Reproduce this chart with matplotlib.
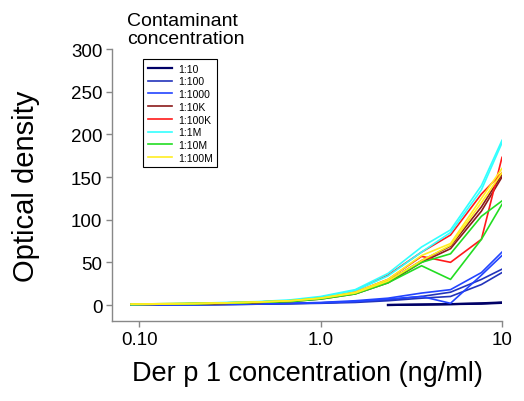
import matplotlib.pyplot as plt
from matplotlib.ticker import FixedLocator, FixedFormatter

plt.rcParams['font.family'] = ['Liberation Sans', 'DejaVu Sans']

# Der p 1 concentration (ng/ml), high to low
conc = [10, 7.7, 5.2, 3.6, 2.35, 1.55, 1.0, 0.68, 0.45, 0.3, 0.2, 0.13, 0.09]
conc_short = conc[:5]

# two replicate curves per contaminant dilution
od_1_10 = [[3, 2, 1, 0.5, 0], [2.5, 1.5, 1, 0.5, 0]]
od_1_100 = [[42, 30, 15, 10, 6, 4, 2.5, 1.5, 1, 0.5, 0.5, 0, 0],
            [38, 24, 10, 8, 5, 3, 2, 1.5, 1, 0.5, 0, 0, 0]]
od_1_1000 = [[62, 38, 18, 14, 8, 5, 3, 2, 1.5, 1, 0.5, 0.5, 0],
             [58, 35, 2, 10, 7, 4, 2.5, 2, 1.5, 1, 0.5, 0.5, 0]]
od_1_10k = [[153, 115, 69, 52, 28, 14, 8, 5, 3, 2, 1.5, 1, 0.5],
            [150, 110, 66, 50, 26, 13, 7, 4, 3, 2, 1, 1, 0.5]]
od_1_100k = [[155, 130, 82, 62, 35, 17, 9, 5, 3.5, 2.5, 1.5, 1, 0.5],
             [173, 77, 50, 57, 30, 15, 8, 5, 3, 2, 1.5, 1, 0.5]]
od_1_1m = [[193, 140, 88, 68, 37, 18, 10, 6, 4, 3, 2, 1, 0.5],
           [190, 135, 85, 62, 34, 17, 9, 5, 3.5, 2.5, 1.5, 1, 0.5]]
od_1_10m = [[118, 77, 30, 46, 26, 13, 7, 4, 3, 2, 1.5, 1, 0.5],
            [122, 104, 60, 50, 28, 14, 8, 5, 3.5, 2.5, 2, 1.5, 1]]
od_1_100m = [[160, 125, 72, 58, 30, 15, 8, 5, 3.5, 2.5, 2, 1.5, 1],
             [155, 120, 70, 52, 28, 14, 8, 5, 3.5, 2.5, 1.5, 1, 1]]

labels = ["1:10", "1:100", "1:1000", "1:10K", "1:100K", "1:1M", "1:10M", "1:100M"]
colors = ["#000066", "#2233bb", "#2244ff", "#8b1a1a", "#ff1a1a", "#33ffff", "#22dd22", "#ffee22"]
series = [od_1_10, od_1_100, od_1_1000, od_1_10k, od_1_100k, od_1_1m, od_1_10m, od_1_100m]

fig = plt.figure(figsize=(5.24, 4.02), dpi=100)
ax = fig.add_axes([0.2137, 0.199, 0.958 - 0.2137, 0.8756 - 0.199])

for lab, col, reps in zip(labels, colors, series):
    for i, ys in enumerate(reps):
        xs = conc_short if len(ys) == len(conc_short) else conc
        lw = 1.6 if lab == "1:10" else 1.2
        ax.plot(xs, ys, color=col, lw=lw, label=lab if i == 0 else None)

ax.set_xscale('log')
ax.set_xlim(0.0705, 10)
ax.set_ylim(-18.75, 300)
ax.xaxis.set_major_locator(FixedLocator([0.1, 1, 10]))
ax.xaxis.set_major_formatter(FixedFormatter(["0.10", "1.0", "10"]))
ax.xaxis.set_minor_locator(FixedLocator([]))
ax.set_yticks([0, 50, 100, 150, 200, 250, 300])

for s in ['top', 'right']:
    ax.spines[s].set_visible(False)
for s in ['left', 'bottom']:
    ax.spines[s].set_color('#888888')
    ax.spines[s].set_linewidth(1.0)
ax.tick_params(direction='out', length=4, width=1, color='#888888',
               labelsize=13.5, pad=3)

ax.set_xlabel("Der p 1 concentration (ng/ml)", fontsize=19.5, labelpad=9)
ax.set_ylabel("Optical density", fontsize=21, labelpad=22)

leg = ax.legend(loc='upper left', bbox_to_anchor=(143 / 524, 1 - 60 / 402),
                bbox_transform=fig.transFigure, fontsize=7.5, frameon=True,
                fancybox=False, framealpha=1, edgecolor='black',
                handlelength=2.3, labelspacing=0.26, borderpad=0.45,
                handletextpad=0.6, borderaxespad=0)
leg.get_frame().set_linewidth(0.8)

fig.text(127 / 524, 1 - 13 / 402, "Contaminant\nconcentration", fontsize=14,
         ha='left', va='top', linespacing=1.05)

fig.savefig("out.png", dpi=100)
